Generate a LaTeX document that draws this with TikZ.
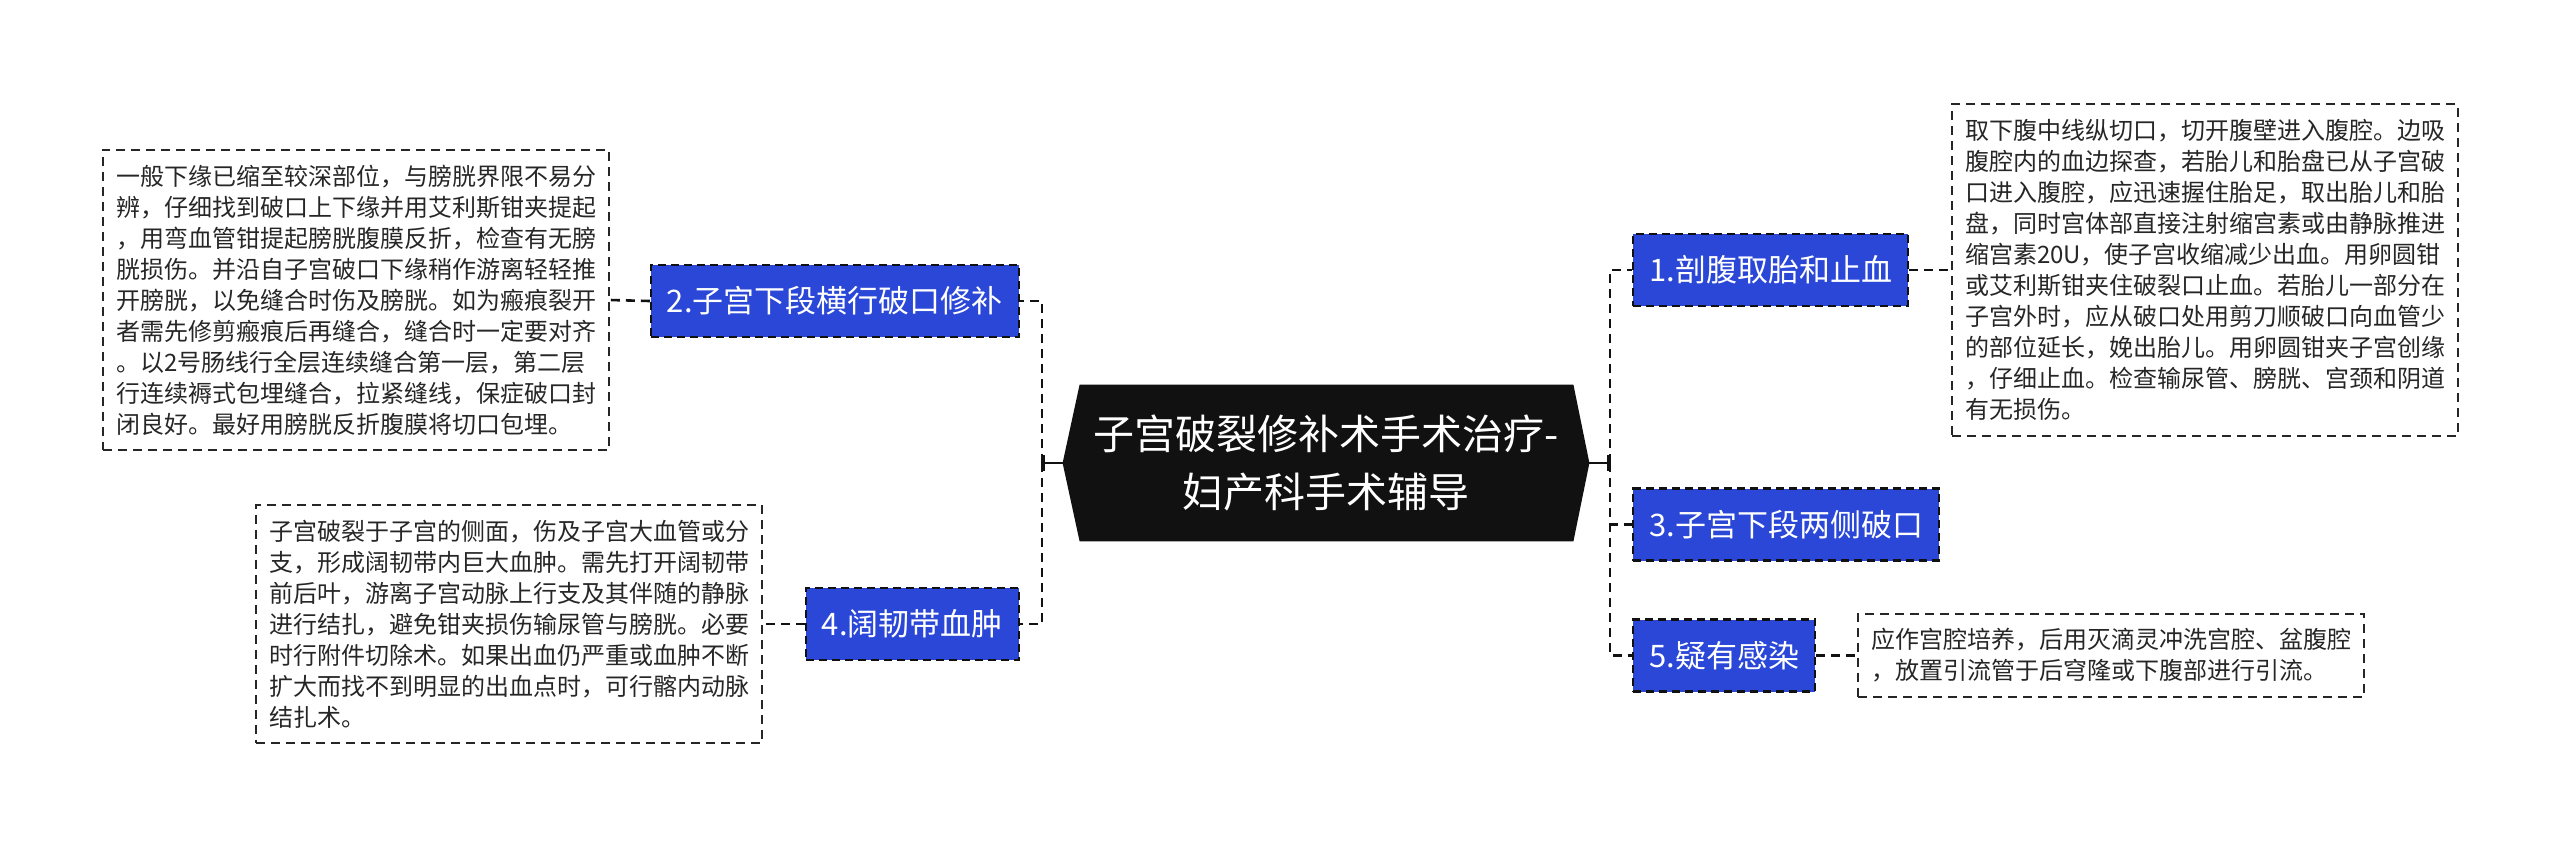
\documentclass[tikz,border=0pt]{standalone}
\usepackage{fontspec}
\setmainfont{Noto Sans CJK SC}
\usetikzlibrary{arrows.meta,calc,backgrounds}
\definecolor{mmBlue}{HTML}{2A47D8}
\definecolor{mmDark}{HTML}{111111}
\definecolor{mmText}{HTML}{262626}
\tikzset{
    % centre topic and branch boxes
    topic/.style={minimum width=263pt,minimum height=78pt,inner sep=0pt,align=center,text=white,font=\fontsize{20.5pt}{29pt}\selectfont},
    branch/.style={rectangle,draw=mmDark,fill=mmBlue,text=white,line width=1.2pt,dash pattern=on 4pt off 2.5pt,minimum height=36pt,inner xsep=8pt,font=\fontsize{15.5pt}{18pt}\selectfont},
    notebox/.style={rectangle,draw=mmText,line width=1pt,dash pattern=on 4.5pt off 3pt,text width=240pt,inner xsep=6.5pt,inner ysep=7.5pt,align=left,text=mmText,font=\fontsize{12pt}{15.5pt}\selectfont},
    % connectors
    link/.style={draw=mmDark,line width=1.3pt,dash pattern=on 4.5pt off 3pt},
    stem/.style={draw=mmDark,line width=1.3pt,-{Bar[width=8pt,line width=1.3pt]}}
}

\begin{document}
\begin{tikzpicture}[x=0.5pt,y=-0.5pt]
    \useasboundingbox (0,0) rectangle (2560,848);

    % Topic
    \node[topic] (ct) at (1326,463) {子宫破裂修补术手术治疗-\\妇产科手术辅导};
    \begin{scope}[on background layer]
        \fill[mmDark] (ct.west) -- ($(ct.north west)+(17,0)$) -- ($(ct.north east)+(-16,0)$) -- (ct.east)
            -- ($(ct.south east)+(-16,0)$) -- ($(ct.south west)+(17,0)$) -- cycle;
    \end{scope}

    % Branches
    \node[branch,anchor=west] (n1) at (1632,270) {1.剖腹取胎和止血};
    \node[branch,anchor=east] (n2) at (1020,301) {2.子宫下段横行破口修补};
    \node[branch,anchor=west] (n3) at (1632,524.5) {3.子宫下段两侧破口};
    \node[branch,anchor=east] (n4) at (1020,624) {4.阔韧带血肿};
    \node[branch,anchor=west] (n5) at (1632,655.5) {5.疑有感染};

    % Notes
    \node[notebox,anchor=west] (d1) at (1951,270) {取下腹中线纵切口，切开腹壁进入腹腔。边吸\\腹腔内的血边探查，若胎儿和胎盘已从子宫破\\口进入腹腔，应迅速握住胎足，取出胎儿和胎\\盘，同时宫体部直接注射缩宫素或由静脉推进\\缩宫素20U，使子宫收缩减少出血。用卵圆钳\\或艾利斯钳夹住破裂口止血。若胎儿一部分在\\子宫外时，应从破口处用剪刀顺破口向血管少\\的部位延长，娩出胎儿。用卵圆钳夹子宫创缘\\，仔细止血。检查输尿管、膀胱、宫颈和阴道\\有无损伤。};
    \node[notebox,anchor=east] (d2) at (610,300) {一般下缘已缩至较深部位，与膀胱界限不易分\\辨，仔细找到破口上下缘并用艾利斯钳夹提起\\，用弯血管钳提起膀胱腹膜反折，检查有无膀\\胱损伤。并沿自子宫破口下缘稍作游离轻轻推\\开膀胱，以免缝合时伤及膀胱。如为瘢痕裂开\\者需先修剪瘢痕后再缝合，缝合时一定要对齐\\。以2号肠线行全层连续缝合第一层，第二层\\行连续褥式包埋缝合，拉紧缝线，保症破口封\\闭良好。最好用膀胱反折腹膜将切口包埋。};
    \node[notebox,anchor=east] (d4) at (763,624) {子宫破裂于子宫的侧面，伤及子宫大血管或分\\支，形成阔韧带内巨大血肿。需先打开阔韧带\\前后叶，游离子宫动脉上行支及其伴随的静脉\\进行结扎，避免钳夹损伤输尿管与膀胱。必要\\时行附件切除术。如果出血仍严重或血肿不断\\扩大而找不到明显的出血点时，可行髂内动脉\\结扎术。};
    \node[notebox,anchor=west] (d5) at (1857,655.5) {应作宫腔培养，后用灭滴灵冲洗宫腔、盆腹腔\\，放置引流管于后穹隆或下腹部进行引流。};

    % Trunks
    \coordinate (lt) at (1042,463);
    \coordinate (rt) at (1610,463);
    \draw[stem] (ct.west) -- (lt);
    \draw[stem] (ct.east) -- (rt);
    \draw[link] (lt) |- (n2.east);
    \draw[link] (lt) |- (n4.east);
    \draw[link] (rt) |- (n1.west);
    \draw[link] (rt) |- (n3.west);
    \draw[link] (rt) |- (n5.west);

    % Branch to note
    \draw[link] (n1.east) -- (d1.west);
    \draw[link] (n2.west) -- (d2.east);
    \draw[link] (n4.west) -- (d4.east);
    \draw[link] (n5.east) -- (d5.west);
\end{tikzpicture}
\end{document}
